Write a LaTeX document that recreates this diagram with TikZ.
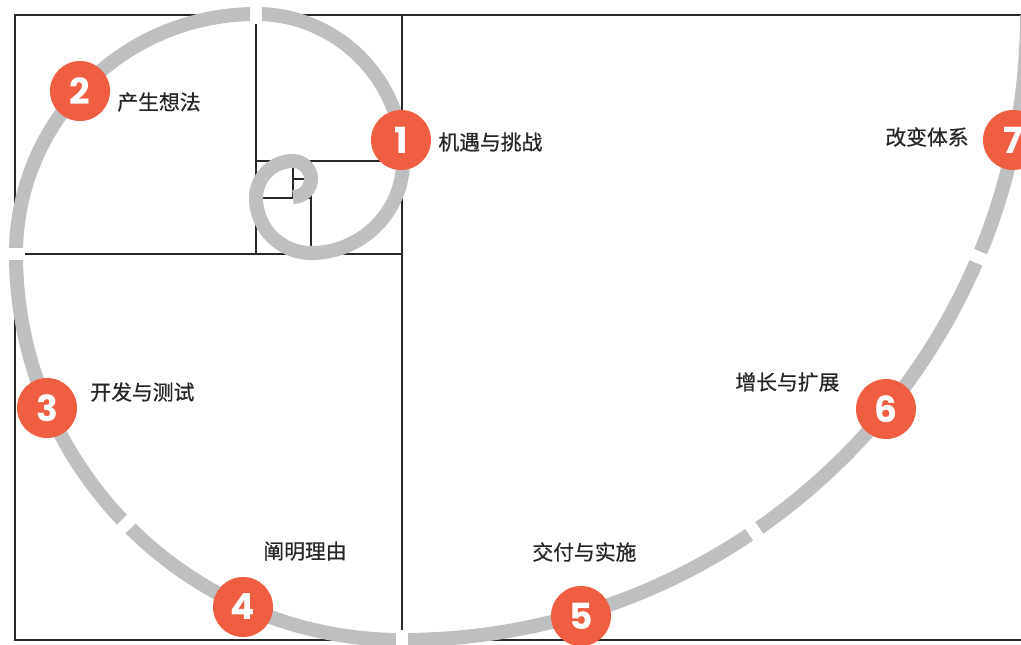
\documentclass[tikz,border=0pt]{standalone}
\usepackage{fontspec}
\setmainfont{Noto Sans CJK SC}
\newfontfamily\labelfont{Noto Sans CJK SC}[FakeBold=0.6]
\newfontfamily\numfont{Poppins}

\definecolor{spiralgray}{RGB}{190,191,193}
\definecolor{stepred}{RGB}{240,94,66}
\definecolor{frameline}{RGB}{40,40,40}

\begin{document}
\begin{tikzpicture}[
    x=0.5pt, y=0.5pt,
    frame/.style={draw=frameline, line width=0.6pt},
    spiral/.style={draw=spiralgray, line width=7pt},
    gapcut/.style={draw=white, line width=6pt},
    stepdot/.style={circle, fill=stepred, minimum size=30pt, inner sep=0pt, text=white, font=\numfont\bfseries\fontsize{18}{18}\selectfont},
    steplabel/.style={anchor=west, inner sep=0pt, text=black!85, font=\labelfont\fontsize{10.4}{12}\selectfont}
]
    \useasboundingbox (0,0) rectangle (1021,644);
    \clip (0,0) rectangle (1021,644);

    % golden rectangle subdivisions
    \draw[frame] (15,4) rectangle (1027,629);
    \draw[frame] (402,4) -- (402,629);
    \draw[frame] (15,390) -- (402,390);
    \draw[frame] (256,390) -- (256,629);
    \draw[frame] (256,483) -- (402,483);
    \draw[frame] (311,390) -- (311,483);
    \draw[frame] (256,446) -- (311,446);
    \draw[frame] (293,446) -- (293,483);
    \draw[frame] (293,465) -- (311,465);

    % arc centres
    \coordinate (o1) at (402,629);
    \coordinate (o2) at (402,390);

    % spiral
    \draw[spiral] (1027,629) arc (0:-90:625) arc (270:180:386) arc (180:90:240)
        arc (90:0:147) arc (0:-90:92) arc (270:180:55) arc (180:90:37) arc (90:-90:18);

    % breaks in the spiral
    \draw[gapcut] (402,-6) -- (402,14);
    \draw[gapcut] (6,390) -- (25,390);
    \draw[gapcut] (256,620) -- (256,639);
    \draw[gapcut] (o1) ++(-55.7:616) -- ++(-55.7:18);
    \draw[gapcut] (o1) ++(-22.8:616) -- ++(-22.8:18);
    \draw[gapcut] (o2) ++(224.4:377) -- ++(224.4:18);

    % steps
    \node[stepdot] (s1) at (401,504) {1};
    \node[stepdot] (s2) at (80,553) {2};
    \node[stepdot] (s3) at (47,236) {3};
    \node[stepdot] (s4) at (243,37) {4};
    \node[stepdot] (s5) at (581,28) {5};
    \node[stepdot] (s6) at (886,235) {6};
    \node[stepdot] (s7) at (1013,504) {7};

    \node[steplabel] (t1) at (438,502) {机遇与挑战};
    \node[steplabel] (t2) at (117,542) {产生想法};
    \node[steplabel] (t3) at (90,252) {开发与测试};
    \node[steplabel] (t4) at (263,93) {阐明理由};
    \node[steplabel] (t5) at (532,92) {交付与实施};
    \node[steplabel] (t6) at (735,262) {增长与扩展};
    \node[steplabel] (t7) at (885,507) {改变体系};
\end{tikzpicture}
\end{document}
